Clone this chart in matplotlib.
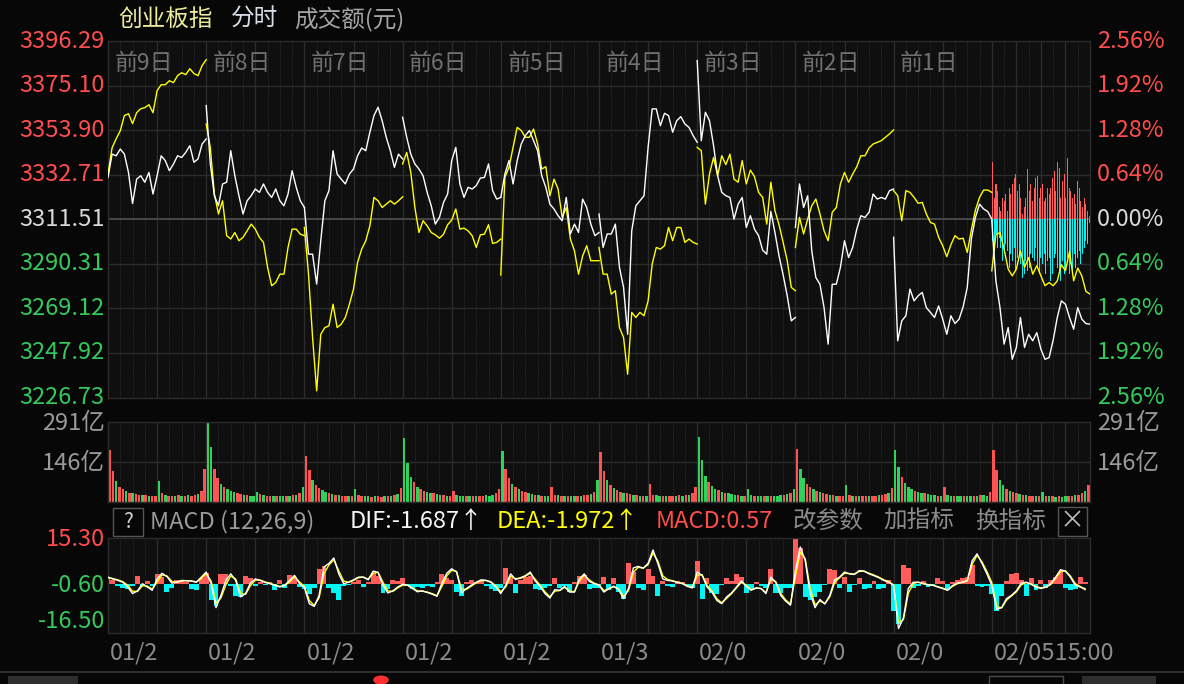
import matplotlib
matplotlib.use('Agg')
import matplotlib.pyplot as plt
import numpy as np
from matplotlib.patches import Rectangle, Circle
from matplotlib.transforms import blended_transform_factory as blend

plt.rcParams['font.family'] = ['Noto Sans CJK SC', 'DejaVu Sans']

# ---------------- data ----------------
day_labels = ['前9日', '前8日', '前7日', '前6日', '前5日', '前4日', '前3日', '前2日', '前1日']
date_labels = ['01/2', '01/2', '01/2', '01/2', '01/2', '01/3', '02/0', '02/0', '02/0', '02/0515:00']
price_ticks = [3396.29, 3375.10, 3353.90, 3332.71, 3311.51, 3290.31, 3269.12, 3247.92, 3226.73]
pct_labels = ['2.56%', '1.92%', '1.28%', '0.64%', '0.00%', '0.64%', '1.28%', '1.92%', '2.56%']
pre_close = 3311.51

# index (white) per day, 10-minute samples (25 per day), 前9日 ... today
white_prices = [
    [3331.4, 3342.5, 3341.7, 3344.9, 3342.5, 3333.8, 3319.0, 3330.6, 3332.2, 3329.1, 3333.8, 3323.5, 3332.2,
     3341.7, 3339.4, 3334.6, 3337.8, 3341.7, 3340.9, 3343.3, 3346.5, 3338.6, 3340.2, 3347.3, 3349.7],
    [3365.6, 3337.8, 3322.7, 3317.9, 3328.3, 3329.1, 3344.1, 3332.2, 3322.7, 3314.0, 3320.3, 3322.7, 3325.9,
     3324.3, 3328.3, 3324.3, 3321.9, 3325.9, 3320.3, 3317.9, 3323.5, 3334.6, 3326.7, 3320.3, 3317.1],
    [3317.1, 3294.9, 3294.9, 3280.7, 3301.3, 3320.3, 3325.1, 3344.1, 3333.0, 3330.6, 3328.3, 3333.0, 3335.4,
     3341.7, 3345.4, 3344.1, 3352.9, 3360.8, 3364.8, 3358.4, 3350.5, 3344.1, 3336.2, 3342.5, 3340.2],
    [3360.0, 3350.5, 3342.5, 3337.8, 3335.4, 3332.2, 3324.3, 3317.9, 3309.2, 3312.4, 3319.5, 3323.5, 3339.4,
     3345.7, 3328.3, 3321.9, 3326.7, 3325.9, 3327.5, 3331.1, 3331.4, 3337.8, 3325.1, 3321.1, 3321.9],
    [3321.9, 3333.0, 3339.4, 3328.3, 3339.4, 3347.3, 3351.3, 3353.7, 3348.9, 3344.1, 3332.2, 3326.7, 3318.7,
     3316.4, 3313.2, 3310.8, 3321.9, 3304.5, 3309.2, 3305.2, 3321.1, 3317.1, 3309.2, 3303.7, 3305.2],
    [3314.0, 3298.1, 3304.5, 3304.5, 3309.2, 3288.6, 3279.1, 3256.8, 3306.0, 3317.9, 3320.3, 3322.7, 3345.7,
     3364.0, 3364.0, 3356.0, 3361.9, 3360.8, 3352.9, 3358.4, 3360.3, 3356.8, 3355.2, 3351.3, 3348.1],
    [3387.0, 3348.9, 3362.4, 3358.4, 3346.5, 3332.2, 3324.3, 3322.7, 3321.9, 3311.6, 3318.7, 3321.9, 3307.6,
     3313.2, 3306.8, 3303.7, 3296.8, 3294.9, 3315.2, 3305.2, 3294.1, 3285.1, 3275.1, 3263.2, 3264.8],
    [3307.6, 3328.3, 3317.1, 3322.7, 3296.5, 3283.8, 3280.6, 3269.5, 3252.1, 3280.6, 3280.6, 3288.6, 3301.3,
     3293.3, 3298.1, 3306.8, 3313.2, 3312.4, 3314.8, 3323.5, 3321.1, 3321.9, 3321.1, 3325.1, 3325.9],
    [3302.9, 3253.7, 3263.2, 3265.6, 3278.3, 3272.7, 3275.1, 3276.7, 3269.5, 3267.2, 3264.8, 3270.3, 3264.0,
     3256.8, 3265.6, 3261.9, 3264.0, 3269.9, 3279.1, 3302.1, 3312.4, 3318.7, 3316.4, 3315.2, 3311.6],
    [3310.8, 3282.2, 3269.5, 3252.1, 3260.0, 3244.9, 3250.5, 3264.8, 3250.5, 3256.8, 3253.7, 3257.6, 3249.7,
     3244.9, 3245.7, 3254.0, 3264.8, 3272.7, 3271.1, 3264.8, 3259.2, 3269.5, 3264.0, 3261.9, 3261.6],
]

# unweighted index (yellow) per day
yellow_prices = [
    [3333.2, 3345.5, 3349.8, 3353.6, 3360.8, 3361.7, 3357.0, 3362.2, 3364.1, 3364.6, 3366.0, 3362.2, 3372.7,
     3375.5, 3375.5, 3377.4, 3376.5, 3379.8, 3381.2, 3380.3, 3383.1, 3380.8, 3379.8, 3384.6, 3387.4],
    [3356.8, 3345.7, 3323.5, 3314.0, 3320.3, 3303.7, 3302.1, 3305.2, 3301.3, 3302.9, 3306.0, 3309.2, 3306.8,
     3302.9, 3300.5, 3288.6, 3279.9, 3281.4, 3285.4, 3285.4, 3298.1, 3306.8, 3306.8, 3304.4, 3303.7],
    [3307.6, 3285.4, 3255.3, 3229.9, 3256.8, 3260.0, 3260.8, 3271.1, 3260.0, 3261.6, 3264.8, 3271.1, 3278.3,
     3291.0, 3297.3, 3301.3, 3308.4, 3321.9, 3320.3, 3317.1, 3318.7, 3320.3, 3318.7, 3320.3, 3322.2],
    [3337.8, 3343.3, 3333.8, 3317.1, 3305.2, 3310.8, 3308.4, 3305.2, 3304.1, 3302.5, 3304.4, 3308.9, 3311.1,
     3316.4, 3306.8, 3307.3, 3306.0, 3303.7, 3298.1, 3304.1, 3304.4, 3308.9, 3300.0, 3300.5, 3302.1],
    [3285.0, 3331.4, 3336.2, 3345.7, 3355.2, 3353.7, 3350.5, 3350.5, 3354.4, 3347.3, 3335.4, 3336.5, 3322.7,
     3330.6, 3325.9, 3312.4, 3317.1, 3302.1, 3296.5, 3285.4, 3294.1, 3298.9, 3291.8, 3291.8, 3291.8],
    [3298.1, 3285.4, 3285.4, 3275.9, 3277.5, 3260.0, 3255.3, 3237.8, 3267.2, 3264.8, 3267.2, 3265.6, 3272.7,
     3290.2, 3298.1, 3297.3, 3298.9, 3307.6, 3301.3, 3307.6, 3307.6, 3300.5, 3302.1, 3300.5, 3299.7],
    [3345.7, 3344.1, 3318.7, 3333.0, 3340.9, 3332.2, 3341.7, 3337.5, 3342.5, 3330.6, 3329.1, 3339.4, 3328.3,
     3334.9, 3331.8, 3324.3, 3321.9, 3309.2, 3329.1, 3315.6, 3308.9, 3300.5, 3291.8, 3279.1, 3277.5],
    [3298.1, 3312.4, 3304.5, 3311.6, 3317.9, 3321.1, 3314.0, 3306.0, 3301.3, 3314.8, 3317.1, 3328.3, 3333.8,
     3329.1, 3333.0, 3336.5, 3341.7, 3341.7, 3345.4, 3347.3, 3348.1, 3348.9, 3350.5, 3352.1, 3354.0],
    [3325.1, 3322.7, 3310.8, 3325.1, 3324.3, 3321.9, 3319.1, 3319.5, 3314.0, 3310.0, 3309.2, 3302.9, 3298.9,
     3293.7, 3299.4, 3303.7, 3302.1, 3302.5, 3295.7, 3306.4, 3315.9, 3321.9, 3325.4, 3325.4, 3324.3],
    [3287.0, 3304.1, 3305.2, 3297.3, 3287.8, 3284.6, 3287.8, 3296.5, 3288.6, 3293.3, 3285.4, 3289.4, 3284.6,
     3279.9, 3281.4, 3279.9, 3282.2, 3289.9, 3287.0, 3296.2, 3282.2, 3288.3, 3284.6, 3277.2, 3275.9],
]

# today's buy / sell strength bars (index points around pre-close)
today_buy = [27.0, 10.3, 16.7, 13.5, 5.6, 4.0, 10.3, 8.7, 11.9, 4.0, 15.1, 11.9, 16.7, 19.8, 21.4, 13.5, 16.7,
             10.3, 2.4, 5.6, 10.3, 23.8, 13.5, 16.7, 8.7, 15.1, 19.8, 20.6, 10.3, 15.1, 16.7, 8.7, 10.3, 15.1,
             11.9, 15.1, 19.8, 23.0, 13.5, 27.0, 24.6, 10.3, 18.3, 21.4, 10.3, 29.0, 15.1, 13.5, 10.3, 11.9,
             7.1, 18.3, 15.1, 8.7, 5.6, 10.3, 7.1, 4.0, 1.6]
today_sell = [10.3, 15.1, 7.1, 13.5, 8.7, 13.5, 19.8, 16.7, 11.9, 15.1, 23.0, 16.7, 19.8, 13.5, 24.6, 18.3,
              16.7, 21.4, 27.8, 26.2, 19.8, 24.6, 23.0, 16.7, 18.3, 19.8, 13.5, 23.0, 26.2, 18.3, 21.4, 16.7,
              26.2, 19.8, 18.3, 29.4, 26.2, 18.3, 16.7, 23.0, 24.6, 29.4, 19.8, 26.2, 24.6, 18.3, 26.2, 21.4,
              24.6, 16.7, 23.0, 18.3, 15.1, 21.4, 16.7, 13.5, 10.3, 11.9, 1.6]

# turnover (亿元), 8-minute bars, 30 per day
turnover = [
    [188, 110, 75, 55, 45, 38, 33, 30, 28, 26, 24, 25, 22, 20, 22, 75, 30, 25, 22, 20, 22, 24, 20, 22, 24, 22, 25, 28, 40, 120],
    [291, 200, 120, 85, 65, 55, 45, 40, 35, 30, 28, 26, 24, 22, 22, 35, 28, 24, 22, 20, 20, 22, 20, 20, 22, 20, 24, 26, 30, 55],
    [167, 115, 80, 62, 50, 42, 36, 32, 28, 26, 24, 22, 22, 20, 20, 45, 24, 22, 20, 20, 18, 20, 20, 18, 20, 22, 22, 24, 28, 50],
    [231, 140, 90, 70, 55, 48, 40, 35, 32, 30, 28, 26, 24, 22, 22, 40, 24, 22, 22, 20, 22, 20, 20, 22, 22, 24, 22, 26, 30, 45],
    [185, 120, 85, 65, 52, 45, 38, 34, 30, 28, 26, 24, 22, 22, 22, 55, 26, 24, 22, 22, 20, 22, 22, 20, 22, 24, 26, 28, 35, 78],
    [182, 110, 78, 60, 50, 42, 36, 32, 30, 28, 26, 24, 22, 22, 22, 65, 26, 24, 22, 22, 20, 20, 22, 22, 24, 22, 24, 26, 30, 55],
    [234, 150, 95, 72, 58, 48, 42, 36, 32, 30, 28, 26, 24, 22, 22, 45, 24, 22, 20, 20, 22, 20, 20, 22, 22, 24, 26, 28, 30, 45],
    [190, 120, 85, 65, 52, 45, 38, 34, 30, 28, 26, 24, 22, 22, 22, 60, 24, 22, 22, 20, 20, 22, 22, 20, 22, 24, 26, 28, 32, 50],
    [188, 125, 90, 68, 55, 46, 40, 35, 32, 30, 28, 26, 24, 22, 22, 55, 24, 22, 20, 20, 20, 22, 20, 20, 22, 22, 24, 26, 22, 35],
    [188, 115, 80, 60, 48, 40, 35, 30, 28, 26, 24, 22, 22, 20, 20, 35, 22, 20, 20, 18, 20, 18, 20, 20, 22, 24, 26, 30, 38, 61],
]
turnover_dir = [
    "rrgrrgrgrr" "grgrrgrgrr" "grgrgrrgrr",
    "ggrrgrgggr" "rgrgggrgrr" "grggrgrgrg",
    "rrgrrggrgr" "grrgrgrrgg" "rgrrgrgrgr",
    "gggrgrrggr" "ggrgrrgggr" "grgrrgggrr",
    "grrgrgrrgg" "rgrggrrgrg" "rggrgrrgrg",
    "rrgrgrrgrr" "grgrgrrggr" "grrgrgrgrr",
    "gggrggrgrg" "ggrgrggrgg" "rgrgggrgrg",
    "rggrrgrgrr" "grgrrgrgrg" "rrgrrgrrgr",
    "ggrgggrggr" "gggrgrggrg" "grggrgrggr",
    "rrggrgrrgr" "grrgrgrgrg" "rggrrgrrgr",
]

# MACD, 12-minute samples (20 per day)
dif = [2.2, 1.6, 1.1, 0.5, -1.1, -3.3, -2.4, 0.0, -1.1, -2.2, 1.6, 3.5, 2.4, 0.2, 0.5, 1.1, 1.0, 0.9, 0.5, 2.2,
       3.9, 0.0, -8.0, -3.9, 1.1, 3.3, 1.1, -4.4, -3.3, 0.2, 1.6, 1.1, 0.4, 0.0, -0.5, -1.1, -0.5, 1.1, 2.8, 0.0,
       -1.3, -6.7, -7.6, -3.9, 5.6, 6.8, 8.6, 3.3, 0.0, 0.5, 1.3, 2.2, 2.2, 1.3, 4.2, 3.8, -0.5, -3.1, -2.4, -1.1,
       -0.2, -0.5, -1.6, -2.7, -2.4, -2.9, -3.5, -4.2, 0.2, 3.5, 5.0, 3.9, -3.1, -1.6, -0.5, 0.5, 1.3, 1.1, 0.5, -1.1,
       -3.3, -0.5, 3.3, 1.4, 2.0, 2.7, 3.9, 0.9, -0.9, -3.3, -4.8, -2.0, -2.2, -0.9, -2.8, -2.8, 1.6, 3.3, 0.8, 0.0,
       -0.5, -2.8, -1.6, -0.8, -2.0, -5.0, -1.6, 5.3, 5.8, 5.2, 6.8, 11.3, 6.7, 1.6, 1.1, 0.9, 0.4, 0.0, -0.9, -1.4,
       3.9, 2.8, -1.1, -2.8, -5.6, -6.7, -4.4, -3.1, -1.1, 0.9, -0.9, -2.2, -1.4, -1.6, -3.3, 2.2, 0.5, -3.9, -5.8, -7.2,
       4.4, 12.3, 7.7, -3.3, -8.0, -5.3, -6.8, -3.9, 1.3, 2.2, 3.9, 3.3, 3.1, 4.4, 4.2, 3.3, 2.7, 2.0, 1.1, 0.5,
       -0.5, -15.0, -11.5, -1.6, 0.5, 0.5, 0.0, -0.4, -0.5, -1.1, -1.6, -2.2, -0.6, 0.2, 0.5, 1.1, 7.7, 10.0, 6.8, 3.3,
       -0.5, -8.6, -8.0, -5.0, -3.9, -2.4, 0.2, 0.5, -0.2, -1.1, -1.6, -1.1, 0.0, 2.2, 4.7, 4.2, 2.2, -0.5, -1.1, -1.7]
dea = [2.0, 1.7, 1.3, 0.7, -0.5, -2.5, -2.6, -0.7, -0.8, -1.8, 0.5, 2.9, 2.6, 0.8, 0.5, 0.9, 1.0, 0.9, 0.6, 1.7,
       3.4, 0.9, -6.5, -4.8, -0.4, 2.6, 1.6, -3.2, -3.6, -0.7, 1.2, 1.2, 0.6, 0.1, -0.4, -0.9, -0.6, 0.6, 2.3, 0.6,
       -0.9, -5.6, -7.3, -4.7, 3.4, 6.3, 8.0, 4.3, 0.9, 0.5, 1.1, 2.0, 2.2, 1.5, 3.5, 3.8, 0.5, -2.4, -2.6, -1.4,
       -0.5, -0.5, -1.4, -2.4, -2.5, -2.8, -3.3, -4.0, -0.9, 2.6, 4.5, 4.1, -1.8, -1.9, -0.8, 0.3, 1.0, 1.1, 0.6, -0.7,
       -2.7, -1.1, 2.5, 1.7, 1.8, 2.5, 3.5, 1.5, -0.5, -2.7, -4.4, -2.5, -2.3, -1.2, -2.4, -2.7, 0.9, 2.9, 1.3, 0.2,
       -0.4, -2.3, -1.8, -1.0, -1.8, -4.3, -2.3, 3.9, 5.5, 5.2, 6.4, 10.3, 7.5, 2.6, 1.4, 1.0, 0.5, 0.1, -0.7, -1.3,
       2.8, 3.0, -0.5, -2.4, -5.0, -6.4, -4.9, -3.3, -1.4, 0.5, -0.5, -2.0, -1.5, -1.6, -3.0, 1.4, 0.7, -3.2, -5.4, -6.8,
       2.5, 10.6, 8.4, -1.6, -7.1, -5.8, -6.6, -4.4, 0.4, 2.0, 3.5, 3.4, 3.2, 4.1, 4.2, 3.5, 2.9, 2.2, 1.3, 0.7,
       -0.4, -13.0, -12.0, -3.2, 0.0, 0.5, 0.1, -0.3, -0.5, -1.0, -1.5, -2.1, -0.9, 0.0, 0.5, 0.9, 6.5, 9.5, 7.3, 4.1,
       0.4, -7.6, -8.1, -5.5, -4.1, -2.7, -0.4, 0.4, -0.1, -0.9, -1.4, -1.2, -0.3, 1.8, 4.1, 4.3, 2.6, 0.0, -0.9, -2.0]
macd_hist = [2.2, 1.4, -0.9, -1.4, -1.8, -0.9, 2.7, -0.9, 0.9, -0.7, 3.2, 2.2, -2.7, -1.4, 1.1, 1.4, 0.7, -1.8, -2.2, 1.8,
             3.6, -5.4, -7.6, 3.2, 3.4, -0.9, -4.0, -4.5, 2.5, 1.8, -0.9, 0.7, -0.5, 0.5, -2.2, 1.1, -1.6, 2.9, 2.2, -1.1,
             -1.8, -3.6, -1.4, 5.0, 5.8, -1.4, -3.2, -5.4, -0.9, -0.5, 0.7, 1.4, -1.1, 0.7, 3.6, 2.7, -3.2, -1.8, 1.4, 0.9,
             1.8, -0.9, -1.8, -1.1, -1.4, -0.9, -1.1, 0.5, 3.2, 1.8, 1.4, -2.7, -4.0, 0.7, 1.1, 0.7, 0.9, -0.7, -1.8, -2.5,
             -1.4, 5.4, 1.8, -3.2, 1.4, 2.2, 2.7, -1.8, -2.2, -1.4, -0.7, 1.8, -1.4, -0.9, -2.7, 0.5, 2.7, 2.9, -1.8, -1.4,
             -1.4, 2.2, -2.2, 1.8, -2.7, -5.0, 6.8, 4.0, -1.4, -2.2, 5.0, 2.7, -4.0, 0.9, -0.9, -1.1, 0.9, 0.5, -0.9, -1.4,
             7.6, -5.0, 1.8, -3.2, -3.6, -0.5, 1.8, 0.9, 3.2, 2.2, -3.2, -1.8, 0.5, -0.9, -1.4, 5.0, -3.2, -3.2, -1.4, -1.4,
             15.0, 12.0, -4.5, -5.4, -4.5, -2.7, -0.5, 5.0, 4.5, -1.4, 2.2, -2.7, -0.5, 1.8, -1.8, -1.4, 0.9, -1.8, -1.4, 1.4,
             -9.0, -13.5, 6.3, 5.4, -1.4, -0.9, 0.9, -1.1, -0.7, 1.8, 0.9, -2.2, 0.5, 1.4, 1.8, 2.2, 6.3, -0.9, -1.1, -0.9,
             -3.6, -9.0, -4.0, 0.9, 3.2, 3.6, 1.4, -4.0, 1.8, -2.2, 1.1, -1.4, 1.4, 2.2, 4.0, -1.4, -2.2, -1.8, 2.2, 0.6]

# ---------------- style ----------------
W, H = 1184, 684
BG = '#070707'
PANEL = '#0f0f0f'
GRID = '#2b2b2b'
DOT = '#3a3a3a'
RED = '#ff4d4d'
GREEN = '#35c95c'
GRAY = '#8a8a8a'
FS = 17

fig = plt.figure(figsize=(W / 100, H / 100), dpi=100)
fig.patch.set_facecolor(BG)


def px_axes(x0, y0, x1, y1):
    ax = fig.add_axes([x0 / W, 1 - y1 / H, (x1 - x0) / W, (y1 - y0) / H])
    ax.set_facecolor(PANEL)
    for s in ax.spines.values():
        s.set_color(GRID)
        s.set_linewidth(1.0)
    ax.set_xticks([])
    ax.set_yticks([])
    ax.set_xlim(0, 2400)
    return ax


def ftext(x, y, s, **kw):
    kw.setdefault('fontsize', FS)
    kw.setdefault('va', 'center')
    return fig.text(x / W, 1 - y / H, s, **kw)


def vgrid(ax):
    for d in range(9):
        for m in (120,):
            ax.axvline(240 * d + m, color=GRID, lw=1.0, zorder=0.5)
        if d > 0:
            ax.axvline(240 * d, color=GRID, lw=1.0, zorder=0.5)
        for m in (30, 60, 90, 150, 180, 210):
            ax.axvline(240 * d + m, color=DOT, lw=0.6, ls=(0, (1, 2)), zorder=0.5)
    for m in (0, 60, 120, 180):
        ax.axvline(2160 + m, color=GRID, lw=1.0, zorder=0.5)
    for m in (30, 90, 150, 210):
        ax.axvline(2160 + m, color=DOT, lw=0.6, ls=(0, (1, 2)), zorder=0.5)


X0, X1 = 108, 1090

# ---------------- header ----------------
ftext(118, 19, '创业板指', color='#ecec9c')
ftext(231, 19, '分时', color='#d6dde4')
ftext(294, 19, '成交额(元)', color='#a4a4a4')

# ---------------- main price panel ----------------
ax = px_axes(X0, 41, X1, 397.5)
ax.set_ylim(price_ticks[-1], price_ticks[0])
vgrid(ax)
for p in price_ticks[1:-1]:
    if p == pre_close:
        ax.axhline(p, color='#474747', lw=1.4, zorder=0.6)
    else:
        ax.axhline(p, color=GRID, lw=1.0, zorder=0.6)

tb = blend(ax.transAxes, ax.transData)
for i, (p, lab) in enumerate(zip(price_ticks, pct_labels)):
    col = RED if i < 4 else ('#d8d8d8' if i == 4 else GREEN)
    ax.text(-0.0035, p, f'{p:.2f}', transform=tb, ha='right', va='center', color=col, fontsize=FS, clip_on=False)
    ax.text(1.007, p, lab, transform=tb, ha='left', va='center', color=col, fontsize=FS, clip_on=False)

for d, lab in enumerate(day_labels):
    ax.text(240 * d + 16, 0.938, lab, transform=blend(ax.transData, ax.transAxes), ha='left', va='center',
            color='#707070', fontsize=16.5)

# today's strength bars
nb = len(today_buy)
bx = 2160 + (np.arange(nb) + 0.5) * 240 / nb
bw = 240 / nb * 0.65
ax.bar(bx, today_buy, bottom=pre_close, width=bw, color='#ff5c5c', linewidth=0, zorder=2)
ax.bar(bx, [-v for v in today_sell], bottom=pre_close, width=bw, color='#00f5f5', linewidth=0, zorder=2)

for d in range(10):
    xs = 240 * d + 10 * np.arange(len(white_prices[d]))
    ax.plot(xs, yellow_prices[d], color='#ffff00', lw=1.0, zorder=4)
    ax.plot(xs, white_prices[d], color='#ffffff', lw=1.0, zorder=5)

# ---------------- turnover panel ----------------
axv = px_axes(X0, 421.7, X1, 501.7)
axv.set_ylim(0, 291)
vgrid(axv)
axv.axhline(146, color=GRID, lw=1.0, zorder=0.6)
for d in range(10):
    vals = turnover[d]
    xs = 240 * d + 8 * np.arange(len(vals)) + 4
    cols = ['#ff5252' if turnover_dir[d][j % len(turnover_dir[d])] == 'r' else '#2fd25a' for j in range(len(vals))]
    axv.bar(xs, vals, width=6.0, color=cols, linewidth=0, zorder=2)
for yy, lab in ((423, '291亿'), (463, '146亿')):
    ftext(105, yy, lab, ha='right', color='#9a9a9a')
    ftext(1097, yy, lab, ha='left', color='#9a9a9a')

# ---------------- MACD header row ----------------
fig.patches.append(Rectangle((113 / W, 1 - 536 / H), 30 / W, 28 / H, transform=fig.transFigure,
                             facecolor='none', edgecolor='#555555', lw=1.0))
ftext(128, 521.5, '?', ha='center', color='#d0d0d0', fontsize=15)
ftext(150, 521.5, 'MACD (12,26,9)', color='#9a9a9a')
ftext(350, 521.5, 'DIF:-1.687↑', color='#f4f4f4')
ftext(497, 521.5, 'DEA:-1.972↑', color='#ffff00')
ftext(656, 521.5, 'MACD:0.57', color=RED)
ftext(793, 521.5, '改参数', color='#8a8a8a')
ftext(883, 521.5, '加指标', color='#8a8a8a')
ftext(975, 521.5, '换指标', color='#8a8a8a')
fig.patches.append(Rectangle((1058 / W, 1 - 536 / H), 29 / W, 29 / H, transform=fig.transFigure,
                             facecolor='none', edgecolor='#555555', lw=1.0))
ftext(1072.5, 521.5, '×', ha='center', color='#bbbbbb', fontsize=18)

# ---------------- MACD panel ----------------
axm = px_axes(X0, 538, X1, 633)
axm.set_ylim(-16.5, 15.3)
vgrid(axm)
mx = 12 * np.arange(len(dif))
hcols = ['#ff5c5c' if v >= 0 else '#00f5f5' for v in macd_hist]
axm.bar(mx, macd_hist, width=12, color=hcols, linewidth=0, zorder=2)
axm.plot(mx, dea, color='#ffff00', lw=1.0, zorder=4)
axm.plot(mx, dif, color='#ffffff', lw=1.0, zorder=5)
ftext(105, 539, '15.30', ha='right', color=RED)
ftext(105, 586, '-0.60', ha='right', color=GREEN)
ftext(105, 622, '-16.50', ha='right', color=GREEN)

# ---------------- date labels ----------------
for d, lab in enumerate(date_labels):
    ftext(X0 + 2 + d * (X1 - X0) / 10, 653, lab, ha='left', color=GRAY)

# ---------------- bottom toolbar (cut off) ----------------
fig.add_artist(plt.Line2D([0, 1], [1 - 671.5 / H, 1 - 671.5 / H], transform=fig.transFigure,
                          color='#2e2e2e', lw=1.5))
fig.patches.append(Rectangle((8 / W, 0), 70 / W, 8 / H, transform=fig.transFigure,
                             facecolor='#2e2e2e', edgecolor='none'))
fig.patches.append(Rectangle((989 / W, -2 / H), 74 / W, 10 / H, transform=fig.transFigure,
                             facecolor='none', edgecolor='#4a4a4a', lw=1.0))
fig.patches.append(Rectangle((1082 / W, 0), 74 / W, 8 / H, transform=fig.transFigure,
                             facecolor='#2e2e2e', edgecolor='none'))
fig.patches.append(Circle((381 / W, 4 / H), 4.5 / H, transform=fig.transFigure, facecolor='#ff3030',
                          edgecolor='none'))

fig.savefig('out.png', dpi=100, facecolor=fig.get_facecolor())
